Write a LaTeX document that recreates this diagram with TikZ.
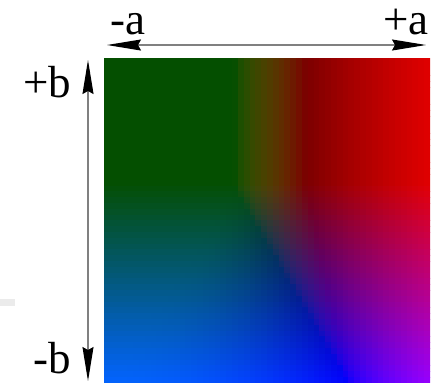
\documentclass[tikz,border=0pt]{standalone}
\usepackage{fontspec}
\setmainfont{Liberation Serif}
\usetikzlibrary{arrows.meta}

\begin{document}
\begin{tikzpicture}[x=1pt,y=-1pt,
    axis/.style={draw=black!50,line width=1.3pt,{Stealth[length=34pt,width=11pt,inset=3pt,black]}-{Stealth[length=34pt,width=11pt,inset=3pt,black]}},
    lbl/.style={font=\fontsize{45}{45}\selectfont,inner sep=0pt,anchor=base,text height=0.7em}]
    \useasboundingbox (0,0) rectangle (438,384);
    % colour field
    \begin{scope}
        \clip (104,58) rectangle (430,383);
        \foreach \row in {0,...,55}{
            \pgfmathsetmacro\vv{(\row+0.5)/56}
            \pgfmathsetmacro\tt{max(0,\vv-0.4)/0.6}
            \pgfmathsetmacro\uR{0.4+0.35*\tt}
            \pgfmathsetmacro\Rmax{0.88-0.29*\tt}
            \pgfmathsetmacro\uGa{0.62+0.13*\tt}
            \pgfmathsetmacro\uGb{0.4*(1-\tt)}
            \pgfmathsetmacro\Gmax{0.31+0.08*\tt}
            \pgfmathsetmacro\bC{min(1,max(0,(\vv-0.38)/0.62))}
            \foreach \col in {0,...,55}{
                \pgfmathsetmacro\uu{(\col+0.5)/56}
                \pgfmathsetmacro\rC{\Rmax*pow(max(0.001,min(1,(\uu-\uR)/(1-\uR))),0.6)}
                \pgfmathsetmacro\ss{min(1,max(0,(\uGa-\uu)/(\uGa-\uGb)))}
                \pgfmathsetmacro\gC{\Gmax*\ss*(2-\ss)}
                \definecolor{cellcol}{rgb}{\rC,\gC,\bC}
                \fill[cellcol] (104+\col*5.82,58+\row*5.8) rectangle ++(6.4,6.4);
            }
        }
    \end{scope}
    % small grey mark
    \fill[black!8] (0,299) rectangle (15,306);
    % axes
    \coordinate (aneg) at (107,45);
    \coordinate (apos) at (426,45);
    \coordinate (bpos) at (88,60);
    \coordinate (bneg) at (88,381);
    \draw[axis] (aneg) -- (apos);
    \draw[axis] (bneg) -- (bpos);
    % labels
    \node[lbl] (la) at (128,34) {-a};
    \node[lbl] (lap) at (406,34) {+a};
    \node[lbl] (lbp) at (47,97) {+b};
    \node[lbl] (lbn) at (52,373) {-b};
\end{tikzpicture}
\end{document}
